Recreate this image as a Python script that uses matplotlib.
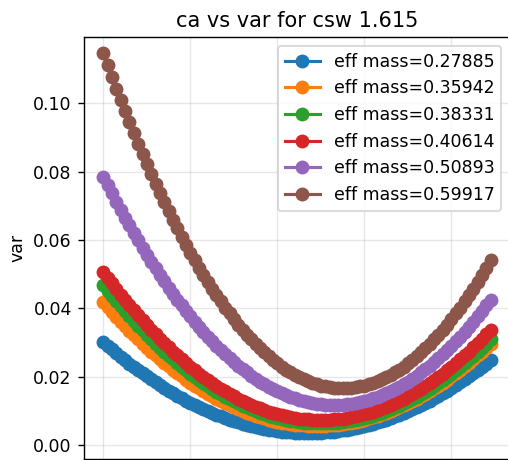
import matplotlib
matplotlib.use('Agg')
import matplotlib.pyplot as plt

ca = [
    0.000, 0.005, 0.010, 0.015, 0.020, 0.025, 0.030, 0.035, 0.040, 0.045,
    0.050, 0.055, 0.060, 0.065, 0.070, 0.075, 0.080, 0.085, 0.090, 0.095,
    0.100, 0.105, 0.110, 0.115, 0.120, 0.125, 0.130, 0.135, 0.140, 0.145,
    0.150, 0.155, 0.160, 0.165, 0.170, 0.175, 0.180, 0.185, 0.190, 0.195,
    0.200, 0.205, 0.210, 0.215, 0.220, 0.225, 0.230, 0.235, 0.240, 0.245,
    0.250, 0.255, 0.260, 0.265, 0.270, 0.275, 0.280, 0.285, 0.290, 0.295,
    0.300, 0.305, 0.310, 0.315, 0.320, 0.325, 0.330, 0.335, 0.340, 0.345,
    0.350, 0.355, 0.360, 0.365, 0.370, 0.375, 0.380, 0.385, 0.390, 0.395,
    0.400, 0.405, 0.410, 0.415, 0.420, 0.425, 0.430, 0.435, 0.440, 0.445,
]

var_027885 = [
    0.03023, 0.02910, 0.02800, 0.02693, 0.02587, 0.02484, 0.02384, 0.02286, 0.02190, 0.02097,
    0.02006, 0.01918, 0.01832, 0.01749, 0.01668, 0.01589, 0.01513, 0.01439, 0.01368, 0.01299,
    0.01232, 0.01168, 0.01106, 0.01047, 0.00990, 0.00936, 0.00884, 0.00834, 0.00787, 0.00742,
    0.00700, 0.00660, 0.00622, 0.00587, 0.00554, 0.00524, 0.00496, 0.00471, 0.00448, 0.00427,
    0.00409, 0.00394, 0.00380, 0.00369, 0.00361, 0.00355, 0.00351, 0.00350, 0.00351, 0.00355,
    0.00361, 0.00369, 0.00380, 0.00394, 0.00409, 0.00427, 0.00448, 0.00471, 0.00496, 0.00524,
    0.00554, 0.00587, 0.00622, 0.00660, 0.00700, 0.00742, 0.00787, 0.00834, 0.00884, 0.00936,
    0.00990, 0.01047, 0.01106, 0.01168, 0.01232, 0.01299, 0.01368, 0.01439, 0.01513, 0.01589,
    0.01668, 0.01749, 0.01832, 0.01918, 0.02006, 0.02097, 0.02190, 0.02286, 0.02384, 0.02484,
]

var_035942 = [
    0.04174, 0.04028, 0.03885, 0.03745, 0.03608, 0.03474, 0.03343, 0.03215, 0.03090, 0.02968,
    0.02849, 0.02733, 0.02620, 0.02510, 0.02404, 0.02300, 0.02199, 0.02101, 0.02006, 0.01915,
    0.01826, 0.01740, 0.01657, 0.01577, 0.01501, 0.01427, 0.01356, 0.01288, 0.01224, 0.01162,
    0.01103, 0.01048, 0.00995, 0.00945, 0.00899, 0.00855, 0.00814, 0.00777, 0.00742, 0.00711,
    0.00682, 0.00656, 0.00634, 0.00614, 0.00598, 0.00584, 0.00574, 0.00566, 0.00562, 0.00560,
    0.00562, 0.00566, 0.00574, 0.00584, 0.00598, 0.00614, 0.00634, 0.00656, 0.00682, 0.00711,
    0.00742, 0.00777, 0.00814, 0.00855, 0.00899, 0.00945, 0.00995, 0.01048, 0.01103, 0.01162,
    0.01224, 0.01288, 0.01356, 0.01427, 0.01501, 0.01577, 0.01657, 0.01740, 0.01826, 0.01915,
    0.02006, 0.02101, 0.02199, 0.02300, 0.02404, 0.02510, 0.02620, 0.02733, 0.02849, 0.02968,
]

var_038331 = [
    0.04680, 0.04520, 0.04362, 0.04209, 0.04058, 0.03911, 0.03766, 0.03625, 0.03488, 0.03353,
    0.03222, 0.03094, 0.02969, 0.02848, 0.02730, 0.02615, 0.02503, 0.02394, 0.02289, 0.02187,
    0.02088, 0.01992, 0.01900, 0.01811, 0.01725, 0.01643, 0.01563, 0.01487, 0.01414, 0.01344,
    0.01278, 0.01215, 0.01155, 0.01098, 0.01045, 0.00995, 0.00948, 0.00904, 0.00863, 0.00826,
    0.00792, 0.00761, 0.00734, 0.00709, 0.00688, 0.00671, 0.00656, 0.00645, 0.00636, 0.00632,
    0.00630, 0.00632, 0.00636, 0.00645, 0.00656, 0.00671, 0.00688, 0.00709, 0.00734, 0.00761,
    0.00792, 0.00826, 0.00863, 0.00904, 0.00948, 0.00995, 0.01045, 0.01098, 0.01155, 0.01215,
    0.01278, 0.01344, 0.01414, 0.01487, 0.01563, 0.01643, 0.01725, 0.01811, 0.01900, 0.01992,
    0.02088, 0.02187, 0.02289, 0.02394, 0.02503, 0.02615, 0.02730, 0.02848, 0.02969, 0.03094,
]

var_040614 = [
    0.05068, 0.04896, 0.04727, 0.04563, 0.04401, 0.04243, 0.04089, 0.03938, 0.03791, 0.03647,
    0.03506, 0.03369, 0.03235, 0.03105, 0.02979, 0.02855, 0.02736, 0.02619, 0.02507, 0.02397,
    0.02292, 0.02189, 0.02090, 0.01995, 0.01903, 0.01814, 0.01729, 0.01648, 0.01570, 0.01495,
    0.01424, 0.01356, 0.01292, 0.01231, 0.01174, 0.01120, 0.01071, 0.01023, 0.00980, 0.00940,
    0.00904, 0.00871, 0.00841, 0.00815, 0.00792, 0.00773, 0.00758, 0.00746, 0.00737, 0.00732,
    0.00730, 0.00732, 0.00737, 0.00746, 0.00758, 0.00773, 0.00792, 0.00815, 0.00841, 0.00871,
    0.00904, 0.00940, 0.00980, 0.01023, 0.01071, 0.01120, 0.01174, 0.01231, 0.01292, 0.01356,
    0.01424, 0.01495, 0.01570, 0.01648, 0.01729, 0.01814, 0.01903, 0.01995, 0.02090, 0.02189,
    0.02292, 0.02397, 0.02507, 0.02619, 0.02736, 0.02855, 0.02979, 0.03105, 0.03235, 0.03369,
]

var_050893 = [
    0.07855, 0.07606, 0.07360, 0.07120, 0.06884, 0.06654, 0.06427, 0.06206, 0.05990, 0.05778,
    0.05571, 0.05368, 0.05171, 0.04978, 0.04790, 0.04607, 0.04428, 0.04254, 0.04086, 0.03921,
    0.03762, 0.03607, 0.03457, 0.03312, 0.03172, 0.03036, 0.02905, 0.02779, 0.02658, 0.02541,
    0.02429, 0.02322, 0.02220, 0.02122, 0.02029, 0.01941, 0.01858, 0.01779, 0.01706, 0.01636,
    0.01572, 0.01513, 0.01458, 0.01408, 0.01363, 0.01323, 0.01287, 0.01256, 0.01230, 0.01208,
    0.01191, 0.01180, 0.01172, 0.01170, 0.01172, 0.01180, 0.01191, 0.01208, 0.01230, 0.01256,
    0.01287, 0.01323, 0.01363, 0.01408, 0.01458, 0.01513, 0.01572, 0.01636, 0.01706, 0.01779,
    0.01858, 0.01941, 0.02029, 0.02122, 0.02220, 0.02322, 0.02429, 0.02541, 0.02658, 0.02779,
    0.02905, 0.03036, 0.03172, 0.03312, 0.03457, 0.03607, 0.03762, 0.03921, 0.04086, 0.04254,
]

var_059917 = [
    0.11461, 0.11108, 0.10761, 0.10421, 0.10087, 0.09760, 0.09439, 0.09125, 0.08817, 0.08516,
    0.08221, 0.07933, 0.07651, 0.07375, 0.07106, 0.06844, 0.06588, 0.06339, 0.06096, 0.05859,
    0.05629, 0.05405, 0.05188, 0.04978, 0.04774, 0.04576, 0.04385, 0.04200, 0.04022, 0.03850,
    0.03685, 0.03526, 0.03374, 0.03228, 0.03089, 0.02956, 0.02830, 0.02710, 0.02596, 0.02489,
    0.02389, 0.02295, 0.02208, 0.02127, 0.02052, 0.01984, 0.01922, 0.01867, 0.01819, 0.01777,
    0.01741, 0.01712, 0.01689, 0.01673, 0.01663, 0.01660, 0.01663, 0.01673, 0.01689, 0.01712,
    0.01741, 0.01777, 0.01819, 0.01867, 0.01922, 0.01984, 0.02052, 0.02127, 0.02208, 0.02295,
    0.02389, 0.02489, 0.02596, 0.02710, 0.02830, 0.02956, 0.03089, 0.03228, 0.03374, 0.03526,
    0.03685, 0.03850, 0.04022, 0.04200, 0.04385, 0.04576, 0.04774, 0.04978, 0.05188, 0.05405,
]

labels = [
    'eff mass=0.27885', 'eff mass=0.35942', 'eff mass=0.38331',
    'eff mass=0.40614', 'eff mass=0.50893', 'eff mass=0.59917',
]
series = [var_027885, var_035942, var_038331, var_040614, var_050893, var_059917]
y_ticks = [0.00, 0.02, 0.04, 0.06, 0.08, 0.10]
x_ticks = [0.0, 0.1, 0.2, 0.3, 0.4]

DPI = 125
fig = plt.figure(figsize=(508 / DPI, 460 / DPI), dpi=DPI)
ax = fig.add_axes([84 / 508, 1 / 460, 426 / 508, 422 / 460])

for ys, lab in zip(series, labels):
    ax.plot(ca, ys, marker='o', markersize=7, linewidth=1.8, label=lab)

ax.set_xlim(-0.02225, 0.46725)
ax.set_ylim(-0.0041, 0.1194)
ax.set_xticks(x_ticks)
ax.set_yticks(y_ticks)
ax.tick_params(axis='x', labelbottom=False, length=0)
ax.grid(True, alpha=0.3)
ax.set_ylabel('var')
ax.set_title('ca vs var for csw 1.615')
ax.legend(loc='upper right')

fig.savefig('out.png', dpi=DPI)
